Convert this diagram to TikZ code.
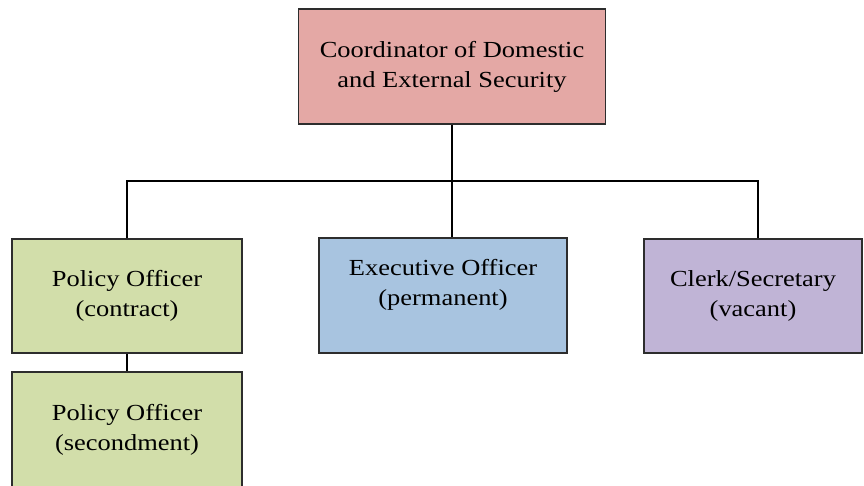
\documentclass[tikz,border=0pt]{standalone}
\usepackage{fontspec}
\setmainfont{Liberation Serif}[FakeStretch=1.15]
\definecolor{cpink}{RGB}{228,168,165}
\definecolor{cgreen}{RGB}{210,222,170}
\definecolor{cblue}{RGB}{168,196,224}
\definecolor{cpurple}{RGB}{192,180,214}
\definecolor{cedge}{RGB}{45,45,45}
\begin{document}
\begin{tikzpicture}[x=1pt,y=1pt,
  boxfont/.style={font=\fontsize{23}{30}\selectfont},
  box/.style={draw=cedge, line width=1.3pt, rectangle, align=center, inner sep=0pt, boxfont},
  conn/.style={draw=black, line width=1.5pt}]
\useasboundingbox (0,0) rectangle (864,485);
\clip (0,0) rectangle (864,485);
\node[box, fill=cpink, minimum width=307, minimum height=115] (top) at (452,418.5)
  {Coordinator of Domestic\\and External Security};
\node[box, fill=cgreen, minimum width=230, minimum height=114] (po) at (127,189)
  {Policy Officer\\(contract)};
\node[box, fill=cblue, minimum width=248, minimum height=115,
  label={[boxfont, align=center, yshift=11pt]center:Executive Officer\\(permanent)}] (ex) at (443,189.5) {};
\node[box, fill=cpurple, minimum width=218, minimum height=114] (cl) at (753,189)
  {Clerk/Secretary\\(vacant)};
\node[box, fill=cgreen, minimum width=230, minimum height=115] (po2) at (127,55.5)
  {Policy Officer\\(secondment)};
\coordinate (bus) at (0,304);
\draw[conn] (top.south) -- (top.south |- ex.north);
\draw[conn] (po.north) |- (bus -| top.south) -| ([xshift=5pt]cl.north);
\draw[conn] (po.south) -- (po2.north);
\end{tikzpicture}
\end{document}
